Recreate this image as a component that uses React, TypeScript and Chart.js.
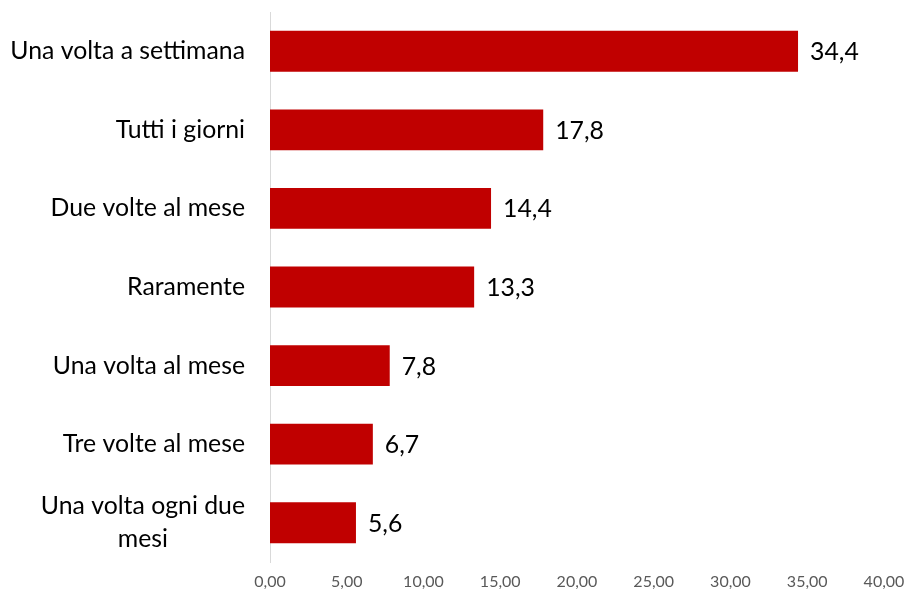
import React, { useEffect, useRef } from "react";
import { Chart, registerables } from "chart.js";

Chart.register(...registerables);

const categories: string[][] = [
  ["Una volta a settimana"],
  ["Tutti i giorni"],
  ["Due volte al mese"],
  ["Raramente"],
  ["Una volta al mese"],
  ["Tre volte al mese"],
  ["Una volta ogni due", "mesi"],
];
const values: number[] = [34.4, 17.8, 14.4, 13.3, 7.8, 6.7, 5.6];
const xTicks: number[] = [0, 5, 10, 15, 20, 25, 30, 35, 40];

const FONT = "Lato";
const fmt1 = (v: number) => v.toFixed(1).replace(".", ",");
const fmt2 = (v: number) => v.toFixed(2).replace(".", ",");

const labelsPlugin = {
  id: "customLabels",
  afterDatasetsDraw(chart: any) {
    const ctx = chart.ctx;
    const yScale = chart.scales.y;
    ctx.save();
    // category labels
    ctx.font = `24.8px ${FONT}`;
    ctx.fillStyle = "#000000";
    ctx.textBaseline = "middle";
    ctx.textAlign = "center";
    const rightEdge = yScale.right - 25;
    const lineH = 33;
    categories.forEach((lines, i) => {
      const yc = yScale.getPixelForValue(i);
      const maxW = Math.max(...lines.map((l) => ctx.measureText(l).width));
      const cx = rightEdge - maxW / 2;
      const startY = yc - ((lines.length - 1) * lineH) / 2;
      lines.forEach((l, j) => ctx.fillText(l, cx, startY + j * lineH));
    });
    // data labels
    const meta = chart.getDatasetMeta(0);
    ctx.textAlign = "left";
    meta.data.forEach((bar: any, i: number) => {
      ctx.fillText(fmt1(values[i]), bar.x + 12, bar.y + 1);
    });
    ctx.restore();
  },
};

export default function App() {
  const ref = useRef<HTMLCanvasElement>(null);
  useEffect(() => {
    if (!ref.current) return;
    const chart = new Chart(ref.current, {
      type: "bar",
      data: {
        labels: categories.map((c) => c.join(" ")),
        datasets: [
          {
            data: values,
            backgroundColor: "#C00000",
            borderWidth: 0,
            categoryPercentage: 1,
            barPercentage: 0.52,
          },
        ],
      },
      options: {
        indexAxis: "y",
        animation: false,
        responsive: false,
        maintainAspectRatio: false,
        layout: { padding: { top: 12, right: 21, bottom: 0, left: 0 } },
        plugins: {
          legend: { display: false },
          tooltip: { enabled: false },
        },
        scales: {
          x: {
            min: 0,
            max: 40,
            afterBuildTicks: (scale: any) => {
              scale.ticks = xTicks.map((v) => ({ value: v }));
            },
            afterFit: (scale: any) => {
              scale.height = 31;
              scale.paddingLeft = 0;
              scale.paddingRight = 0;
            },
            grid: { display: false, drawTicks: false },
            border: { display: false },
            ticks: {
              color: "#595959",
              font: { family: FONT, size: 16 },
              padding: 10,
              maxRotation: 0,
              callback: (v: any) => fmt2(Number(v)),
            },
          },
          y: {
            afterFit: (scale: any) => {
              scale.width = 270;
              scale.paddingTop = 0;
              scale.paddingBottom = 0;
            },
            grid: { display: false, drawTicks: false },
            border: { display: true, color: "#D9D9D9", width: 1 },
            ticks: { display: false },
          },
        },
      },
      plugins: [labelsPlugin],
    });
    return () => chart.destroy();
  }, []);
  return (
    <div style={{ position: "fixed", left: 0, top: 0, width: 905, height: 593, background: "#fff" }}>
      <canvas ref={ref} width={905} height={593} style={{ display: "block" }} />
    </div>
  );
}
